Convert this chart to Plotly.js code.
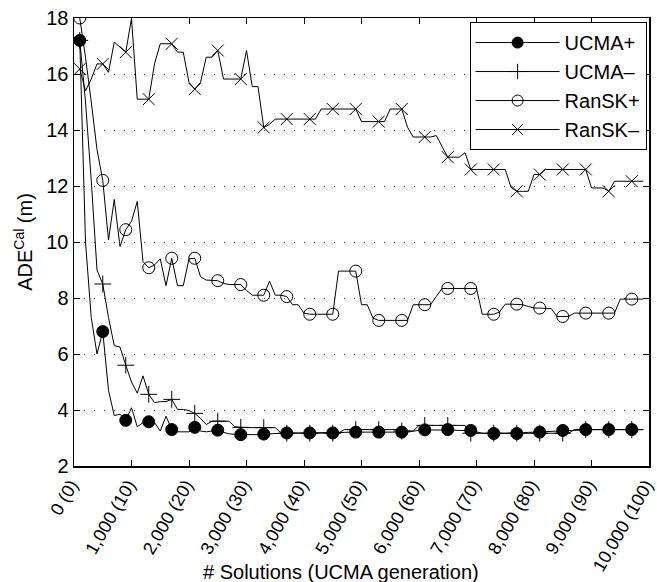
<!DOCTYPE html>
<html>
<head>
<meta charset="utf-8">
<script src="https://cdn.plot.ly/plotly-3.0.1.min.js"></script>
<style>
  html, body { margin: 0; padding: 0; background: #fff; }
  #chart { width: 657px; height: 582px; }
</style>
</head>
<body>
<div id="chart"></div>
<script>
// Generation index (1..99), one value per UCMA generation
const generations = Array.from({length: 99}, (_, i) => i + 1);

const tickValues = [0, 10, 20, 30, 40, 50, 60, 70, 80, 90, 100];
const tickLabels = ["0 (0)", "1,000 (10)", "2,000 (20)", "3,000 (30)", "4,000 (40)",
  "5,000 (50)", "6,000 (60)", "7,000 (70)", "8,000 (80)", "9,000 (90)", "10,000 (100)"];

const seriesNames = ["UCMA+", "UCMA\u2013", "RanSK+", "RanSK\u2013"];

const ucmaPlus = [
  17.2, 10.0, 7.3, 6.0, 6.8, 4.7, 3.8, 3.85, 3.63, 4.08,
  3.4, 3.55, 3.58, 3.55, 3.25, 3.78, 3.3, 3.22, 3.22, 3.22,
  3.38, 3.25, 3.22, 3.25, 3.28, 3.2, 3.15, 3.13, 3.12, 3.12,
  3.12, 3.12, 3.14, 3.15, 3.16, 3.17, 3.18, 3.18, 3.18, 3.18,
  3.18, 3.18, 3.18, 3.18, 3.18, 3.19, 3.2, 3.21, 3.21, 3.21,
  3.21, 3.21, 3.21, 3.21, 3.21, 3.21, 3.21, 3.21, 3.24, 3.28,
  3.29, 3.29, 3.29, 3.29, 3.3, 3.28, 3.27, 3.27, 3.27, 3.22,
  3.17, 3.16, 3.16, 3.16, 3.16, 3.16, 3.16, 3.18, 3.2, 3.21,
  3.21, 3.23, 3.25, 3.26, 3.27, 3.28, 3.29, 3.3, 3.3, 3.3,
  3.3, 3.3, 3.3, 3.3, 3.3, 3.3, 3.3, 3.3, 3.3
];

const ucmaMinus = [
  17.2, 15.0, 12.2, 9.0, 8.5, 7.3, 6.3, 6.25, 5.6, 5.0,
  4.6, 5.22, 4.56, 4.26, 4.3, 4.3, 4.38, 4.02, 4.02, 3.98,
  3.88, 3.7, 3.48, 3.6, 3.6, 3.6, 3.6, 3.4, 3.38, 3.37,
  3.37, 3.37, 3.37, 3.37, 3.37, 3.18, 3.17, 3.17, 3.17, 3.17,
  3.17, 3.17, 3.17, 3.17, 3.17, 3.18, 3.3, 3.3, 3.3, 3.3,
  3.3, 3.3, 3.3, 3.3, 3.3, 3.3, 3.25, 3.25, 3.25, 3.45,
  3.45, 3.45, 3.45, 3.45, 3.45, 3.45, 3.45, 3.45, 3.17, 3.17,
  3.17, 3.17, 3.17, 3.17, 3.17, 3.17, 3.17, 3.17, 3.17, 3.17,
  3.17, 3.17, 3.17, 3.17, 3.17, 3.17, 3.3, 3.3, 3.3, 3.3,
  3.3, 3.3, 3.3, 3.3, 3.3, 3.3, 3.3, 3.3, 3.3
];

const ranskPlus = [
  18.0, 16.6, 15.0, 13.3, 12.2, 10.07, 11.52, 9.84, 10.44, 10.74,
  11.45, 9.3, 9.08, 9.18, 9.4, 8.44, 9.42, 8.44, 8.44, 9.4,
  9.42, 8.76, 8.64, 8.62, 8.62, 8.52, 8.48, 8.48, 8.48, 8.27,
  8.1, 8.1, 8.1, 8.6, 8.1, 8.1, 8.05, 7.76, 7.76, 7.46,
  7.42, 7.42, 7.42, 7.42, 7.42, 8.96, 8.96, 8.96, 8.96, 7.76,
  7.76, 7.28, 7.2, 7.2, 7.2, 7.2, 7.2, 7.2, 7.76, 7.76,
  7.76, 7.76, 8.05, 8.34, 8.34, 8.34, 8.34, 8.34, 8.34, 8.34,
  7.42, 7.42, 7.42, 7.5, 7.78, 7.78, 7.78, 7.76, 7.7, 7.64,
  7.64, 7.64, 7.62, 7.34, 7.34, 7.34, 7.46, 7.46, 7.46, 7.46,
  7.46, 7.46, 7.46, 7.46, 7.96, 7.96, 7.96, 7.96, 7.96
];

const ranskMinus = [
  16.18, 15.4, 15.82, 16.36, 16.36, 16.06, 17.14, 16.96, 16.78, 17.98,
  15.1, 15.1, 15.1, 16.36, 17.08, 17.08, 17.08, 16.78, 16.78, 15.7,
  15.46, 15.7, 16.6, 16.6, 16.84, 15.82, 15.82, 15.82, 15.82, 16.84,
  15.55, 15.55, 14.09, 14.2, 14.39, 14.39, 14.39, 14.39, 14.39, 14.39,
  14.39, 14.39, 14.75, 14.75, 14.75, 14.75, 14.75, 14.75, 14.75, 14.3,
  14.3, 14.3, 14.3, 14.3, 14.75, 14.75, 14.75, 14.1, 13.75, 13.75,
  13.75, 13.75, 13.8, 13.4, 13.03, 13.03, 13.03, 13.19, 12.59, 12.59,
  12.59, 12.59, 12.59, 12.59, 12.59, 11.95, 11.81, 11.81, 11.81, 12.41,
  12.41, 12.59, 12.59, 12.59, 12.59, 12.59, 12.59, 12.59, 12.59, 11.93,
  11.93, 11.93, 11.81, 12.17, 12.17, 12.17, 12.17, 12.17, 12.17
];

const seriesValues = [ucmaPlus, ucmaMinus, ranskPlus, ranskMinus];
const seriesSymbols = ["circle", "cross-thin-open", "circle-open", "x-thin-open"];

// markers drawn every 4th generation, starting at the first one
const markerSizes = generations.map(g => ((g - 1) % 4 === 0 ? 12 : 0));

const dataTraces = seriesValues.map((vals, k) => ({
  x: generations,
  y: vals,
  name: seriesNames[k],
  showlegend: false,
  type: "scatter",
  mode: "lines+markers",
  line: {color: "#000", width: 1},
  marker: {
    symbol: seriesSymbols[k],
    size: markerSizes,
    opacity: 1,
    color: "#000",
    line: {color: "#000", width: 1}
  },
  hoverinfo: "skip"
}));

// legend entries (line + marker sample) for each series
const legendTraces = seriesNames.map((nm, k) => ({
  x: [null],
  y: [null],
  name: nm,
  type: "scatter",
  mode: "lines+markers",
  line: {color: "#000", width: 1},
  marker: {
    symbol: seriesSymbols[k],
    size: 11,
    opacity: 1,
    color: "#000",
    line: {color: "#000", width: 1}
  },
  hoverinfo: "skip"
}));

const font = {family: "Liberation Sans, Arial, Helvetica, sans-serif", size: 20, color: "#000"};
const xTickFont = {family: "Liberation Sans, Arial, Helvetica, sans-serif", size: 18, color: "#000"};

const layout = {
  width: 657,
  height: 582,
  margin: {l: 74, r: 8, t: 18, b: 116},
  paper_bgcolor: "#fff",
  plot_bgcolor: "#fff",
  font: font,
  showlegend: true,
  legend: {
    x: 0.9958, xanchor: "right",
    y: 0.991, yanchor: "top",
    bgcolor: "#fff",
    bordercolor: "#000",
    borderwidth: 1,
    itemwidth: 84,
    font: font
  },
  xaxis: {
    range: [0, 100],
    tickvals: tickValues,
    ticktext: tickLabels,
    tickangle: -60,
    ticks: "inside",
    ticklen: 6,
    tickcolor: "#000",
    showline: true,
    linecolor: "#000",
    linewidth: 1.5,
    mirror: "ticks",
    showgrid: false,
    zeroline: false,
    tickfont: xTickFont,
    ticklabelshift: -3,
    ticklabeloverflow: "allow",
    automargin: false
  },
  yaxis: {
    range: [2, 18],
    tickvals: [2, 4, 6, 8, 10, 12, 14, 16, 18],
    ticks: "inside",
    ticklen: 6,
    tickcolor: "#000",
    showline: true,
    linecolor: "#000",
    linewidth: 1.5,
    mirror: "ticks",
    showgrid: true,
    gridcolor: "#444",
    gridwidth: 1,
    griddash: "1px,9px",
    zeroline: false,
    tickfont: font,
    automargin: false,
    title: {text: "ADE<sup>Cal</sup> (m)", font: font, standoff: 8}
  },
  annotations: [{
    text: "# Solutions (UCMA generation)",
    xref: "paper", yref: "paper",
    x: 0.465, y: -0.236,
    xanchor: "center", yanchor: "middle",
    showarrow: false,
    font: font
  }]
};

Plotly.newPlot("chart", dataTraces.concat(legendTraces), layout, {displayModeBar: false, staticPlot: true});
</script>
</body>
</html>
